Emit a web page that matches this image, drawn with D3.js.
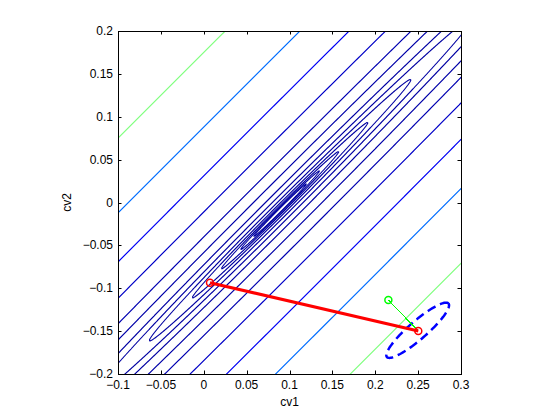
<!DOCTYPE html>
<html>
<head>
<meta charset="utf-8">
<script src="https://cdn.jsdelivr.net/npm/d3@7"></script>
<style>
	body { margin: 0; background: #fff; }
	text { font-family: "Liberation Sans", Arial, sans-serif; font-size: 12px; fill: #000; }
</style>
</head>
<body>
<svg id="chart" width="560" height="420"></svg>
<script>
(function () {
	// axes
	let xDomain = [-0.1, 0.3];
	let yDomain = [-0.2, 0.2];
	let xTicks = [-0.1, -0.05, 0, 0.05, 0.1, 0.15, 0.2, 0.25, 0.3];
	let yTicks = [-0.2, -0.15, -0.1, -0.05, 0, 0.05, 0.1, 0.15, 0.2];
	let xLabel = "cv1";
	let yLabel = "cv2";

	// contour field: valley along y = x - valleyOffset, centred at x + y = valleyMid
	let valleyOffset = 0.098;
	let valleyMid = 0.08;
	let valleyStretch = 25;
	let contourLevels = [0.0025, 0.0037, 0.0055, 0.0082, 0.0122, 0.018, 0.026, 0.040, 0.058, 0.087, 0.129, 0.186, 0.273];
	let colorMax = 0.149; // level^2 at top of jet colormap

	// overlays
	let redPath = [[0.0073, -0.0935], [0.2502, -0.1499]];
	let greenPath = [[0.2153, -0.1137], [0.2502, -0.1499]];
	let ellipseCenter = [0.2495, -0.1490];
	let ellipseRadii = [0.0476, 0.0105];
	let ellipseAngle = 41; // degrees

	let svg = d3.select("#chart");
	let left = 118, top = 31, side = 343;

	let x = d3.scaleLinear().domain(xDomain).range([left, left + side]);
	let y = d3.scaleLinear().domain(yDomain).range([top + side, top]);

	let jet = d3.scaleLinear()
		.domain([0, 0.125, 0.375, 0.625, 0.875, 1])
		.range(["#0000a0", "#0000ff", "#00ffff", "#ffff00", "#ff0000", "#800000"])
		.clamp(true);

	svg.append("clipPath").attr("id", "plotClip")
		.append("rect")
		.attr("x", left).attr("y", top)
		.attr("width", side).attr("height", side);

	// sample the field on a pixel grid a bit larger than the plot
	let pad = 4;
	let n = side + 2 * pad + 1;
	let values = new Float64Array(n * n);
	for (let j = 0; j < n; j++) {
		let vy = y.invert(top - pad + j);
		for (let i = 0; i < n; i++) {
			let vx = x.invert(left - pad + i);
			let u = vy - vx + valleyOffset;
			let t = (vx + vy - valleyMid) / valleyStretch;
			values[j * n + i] = Math.sqrt(u * u + t * t);
		}
	}

	let contours = d3.contours().size([n, n]).thresholds(contourLevels)(values);

	svg.append("g")
		.attr("clip-path", "url(#plotClip)")
		.append("g")
		.attr("transform", "translate(" + (left - pad - 0.5) + "," + (top - pad - 0.5) + ")")
		.selectAll("path")
		.data(contours)
		.enter()
		.append("path")
		.attr("d", d3.geoPath())
		.attr("fill", "none")
		.attr("stroke", function (d) { return jet(d.value * d.value / colorMax); })
		.attr("stroke-width", 1.1)
		.attr("stroke-linejoin", "round");

	// dashed ellipse
	let a = ellipseAngle * Math.PI / 180;
	let ellipsePts = d3.range(0, 361, 3).map(function (deg) {
		let th = deg * Math.PI / 180;
		let ex = ellipseRadii[0] * Math.cos(th), ey = ellipseRadii[1] * Math.sin(th);
		return [ellipseCenter[0] + ex * Math.cos(a) - ey * Math.sin(a),
			ellipseCenter[1] + ex * Math.sin(a) + ey * Math.cos(a)];
	});
	let line = d3.line().x(function (d) { return x(d[0]); }).y(function (d) { return y(d[1]); });

	svg.append("path")
		.attr("d", line(ellipsePts))
		.attr("fill", "none")
		.attr("stroke", "#0000ff")
		.attr("stroke-width", 2.5)
		.attr("stroke-dasharray", "9,5");

	// green step
	svg.append("path")
		.attr("d", line(greenPath))
		.attr("fill", "none")
		.attr("stroke", "#00ff00")
		.attr("stroke-width", 1)
		.style("shape-rendering", "crispEdges");
	svg.append("circle")
		.attr("cx", x(greenPath[0][0])).attr("cy", y(greenPath[0][1]))
		.attr("r", 3.5)
		.attr("fill", "none").attr("stroke", "#00ff00").attr("stroke-width", 1.5);

	// red step
	svg.append("path")
		.attr("d", line(redPath))
		.attr("fill", "none")
		.attr("stroke", "#ff0000")
		.attr("stroke-width", 3);
	svg.selectAll(".redMark")
		.data(redPath)
		.enter()
		.append("circle")
		.attr("class", "redMark")
		.attr("cx", function (d) { return x(d[0]); })
		.attr("cy", function (d) { return y(d[1]); })
		.attr("r", 3.5)
		.attr("fill", "none").attr("stroke", "#ff0000").attr("stroke-width", 1.5);

	// box and ticks (inward, all sides)
	let tickLen = 3.5;
	svg.append("rect")
		.attr("x", left + 0.5).attr("y", top + 0.5)
		.attr("width", side).attr("height", side)
		.attr("fill", "none").attr("stroke", "#000").attr("stroke-width", 1);

	let tg = svg.append("g").attr("stroke", "#000").attr("stroke-width", 1);
	xTicks.forEach(function (v) {
		let px = Math.round(x(v)) + 0.5;
		tg.append("line").attr("x1", px).attr("x2", px).attr("y1", top + side).attr("y2", top + side - tickLen);
		tg.append("line").attr("x1", px).attr("x2", px).attr("y1", top).attr("y2", top + tickLen);
	});
	yTicks.forEach(function (v) {
		let py = Math.round(y(v)) + 0.5;
		tg.append("line").attr("x1", left).attr("x2", left + tickLen).attr("y1", py).attr("y2", py);
		tg.append("line").attr("x1", left + side).attr("x2", left + side - tickLen).attr("y1", py).attr("y2", py);
	});

	svg.selectAll(".xTick")
		.data(xTicks)
		.enter()
		.append("text")
		.attr("class", "xTick")
		.attr("x", function (d) { return x(d); })
		.attr("y", top + side + 15)
		.attr("text-anchor", "middle")
		.text(function (d) { return d3.format("")(d); });

	svg.selectAll(".yTick")
		.data(yTicks)
		.enter()
		.append("text")
		.attr("class", "yTick")
		.attr("x", left - 5)
		.attr("y", function (d) { return y(d) + 4; })
		.attr("text-anchor", "end")
		.text(function (d) { return d3.format("")(d); });

	svg.append("text")
		.attr("x", left + side / 2)
		.attr("y", top + side + 32)
		.attr("text-anchor", "middle")
		.text(xLabel);

	svg.append("text")
		.attr("transform", "translate(" + 71 + "," + (top + side / 2) + ") rotate(-90)")
		.attr("text-anchor", "middle")
		.text(yLabel);
})();
</script>
</body>
</html>
